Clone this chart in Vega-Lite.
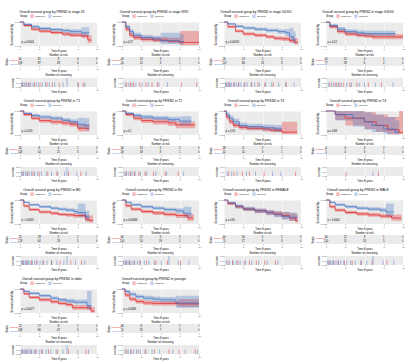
{
"$schema":"https://vega.github.io/schema/vega-lite/v6.json",
"padding":{"left":5,"top":9,"right":1,"bottom":1},
"background":"#ffffff",
"datasets":{
"km":[
{"p":1,"g":"U","t":0,"s":1,"lo":1,"hi":1,"pv":"p = 0.0044"},{"p":1,"g":"U","t":0.5,"s":0.85,"lo":0.8,"hi":0.9},{"p":1,"g":"U","t":1.5,"s":0.7,"lo":0.64,"hi":0.76},{"p":1,"g":"U","t":2.5,"s":0.62,"lo":0.55,"hi":0.69},{"p":1,"g":"U","t":4,"s":0.56,"lo":0.49,"hi":0.63},{"p":1,"g":"U","t":5.5,"s":0.5,"lo":0.42,"hi":0.58},{"p":1,"g":"U","t":6.5,"s":0.45,"lo":0.37,"hi":0.54},{"p":1,"g":"U","t":8,"s":0.42,"lo":0.32,"hi":0.53},{"p":1,"g":"U","t":8.8,"s":0.25,"lo":0.13,"hi":0.45},{"p":1,"g":"U","t":9.3,"s":0.25,"lo":0.13,"hi":0.45},
{"p":1,"g":"O","t":0,"s":1,"lo":1,"hi":1},{"p":1,"g":"O","t":0.5,"s":0.9,"lo":0.86,"hi":0.94},{"p":1,"g":"O","t":1.5,"s":0.8,"lo":0.75,"hi":0.86},{"p":1,"g":"O","t":2.5,"s":0.73,"lo":0.67,"hi":0.79},{"p":1,"g":"O","t":4,"s":0.68,"lo":0.61,"hi":0.75},{"p":1,"g":"O","t":5.5,"s":0.64,"lo":0.56,"hi":0.72},{"p":1,"g":"O","t":6.5,"s":0.6,"lo":0.5,"hi":0.7},{"p":1,"g":"O","t":8,"s":0.55,"lo":0.4,"hi":0.78},{"p":1,"g":"O","t":9,"s":0.55,"lo":0.4,"hi":0.78},
{"p":2,"g":"U","t":0,"s":1,"lo":1,"hi":1,"pv":"p = 0.27"},{"p":2,"g":"U","t":0.5,"s":0.7,"lo":0.6,"hi":0.8},{"p":2,"g":"U","t":1,"s":0.45,"lo":0.35,"hi":0.56},{"p":2,"g":"U","t":1.5,"s":0.35,"lo":0.25,"hi":0.46},{"p":2,"g":"U","t":2.5,"s":0.28,"lo":0.19,"hi":0.4},{"p":2,"g":"U","t":4,"s":0.25,"lo":0.16,"hi":0.37},{"p":2,"g":"U","t":6,"s":0.2,"lo":0.11,"hi":0.34},{"p":2,"g":"U","t":7.5,"s":0.15,"lo":0.03,"hi":0.62},{"p":2,"g":"U","t":10,"s":0.15,"lo":0.03,"hi":0.62},
{"p":2,"g":"O","t":0,"s":1,"lo":1,"hi":1},{"p":2,"g":"O","t":0.5,"s":0.8,"lo":0.72,"hi":0.88},{"p":2,"g":"O","t":1,"s":0.6,"lo":0.5,"hi":0.7},{"p":2,"g":"O","t":1.5,"s":0.45,"lo":0.35,"hi":0.56},{"p":2,"g":"O","t":2.5,"s":0.35,"lo":0.25,"hi":0.47},{"p":2,"g":"O","t":4,"s":0.3,"lo":0.2,"hi":0.43},{"p":2,"g":"O","t":5,"s":0.22,"lo":0.08,"hi":0.55},{"p":2,"g":"O","t":7.5,"s":0.18,"lo":0.05,"hi":0.5},{"p":2,"g":"O","t":8,"s":0.18,"lo":0.05,"hi":0.5},
{"p":3,"g":"U","t":0,"s":1,"lo":1,"hi":1,"pv":"p = 0.00015"},{"p":3,"g":"U","t":0.5,"s":0.8,"lo":0.75,"hi":0.85},{"p":3,"g":"U","t":1.5,"s":0.62,"lo":0.56,"hi":0.68},{"p":3,"g":"U","t":2.5,"s":0.5,"lo":0.44,"hi":0.57},{"p":3,"g":"U","t":4,"s":0.45,"lo":0.38,"hi":0.52},{"p":3,"g":"U","t":5.5,"s":0.38,"lo":0.31,"hi":0.46},{"p":3,"g":"U","t":6.5,"s":0.32,"lo":0.24,"hi":0.41},{"p":3,"g":"U","t":7.5,"s":0.3,"lo":0.21,"hi":0.4},{"p":3,"g":"U","t":8.5,"s":0.22,"lo":0.12,"hi":0.35},{"p":3,"g":"U","t":9.2,"s":0.15,"lo":0.06,"hi":0.32},{"p":3,"g":"U","t":9.6,"s":0.15,"lo":0.06,"hi":0.32},
{"p":3,"g":"O","t":0,"s":1,"lo":1,"hi":1},{"p":3,"g":"O","t":0.5,"s":0.92,"lo":0.89,"hi":0.95},{"p":3,"g":"O","t":1.5,"s":0.82,"lo":0.77,"hi":0.87},{"p":3,"g":"O","t":2.5,"s":0.75,"lo":0.69,"hi":0.81},{"p":3,"g":"O","t":4,"s":0.7,"lo":0.63,"hi":0.77},{"p":3,"g":"O","t":5.5,"s":0.65,"lo":0.57,"hi":0.73},{"p":3,"g":"O","t":7,"s":0.6,"lo":0.5,"hi":0.7},{"p":3,"g":"O","t":8,"s":0.55,"lo":0.42,"hi":0.7},{"p":3,"g":"O","t":8.5,"s":0.4,"lo":0.22,"hi":0.76},{"p":3,"g":"O","t":9,"s":0.25,"lo":0.08,"hi":0.6},{"p":3,"g":"O","t":9.3,"s":0.25,"lo":0.08,"hi":0.6},
{"p":4,"g":"U","t":0,"s":1,"lo":1,"hi":1,"pv":"p = 0.12"},{"p":4,"g":"U","t":0.5,"s":0.8,"lo":0.73,"hi":0.87},{"p":4,"g":"U","t":1.5,"s":0.6,"lo":0.52,"hi":0.68},{"p":4,"g":"U","t":2.5,"s":0.5,"lo":0.42,"hi":0.59},{"p":4,"g":"U","t":4,"s":0.45,"lo":0.36,"hi":0.54},{"p":4,"g":"U","t":5,"s":0.42,"lo":0.33,"hi":0.52},{"p":4,"g":"U","t":6,"s":0.38,"lo":0.28,"hi":0.5},{"p":4,"g":"U","t":10,"s":0.38,"lo":0.28,"hi":0.5},
{"p":4,"g":"O","t":0,"s":1,"lo":1,"hi":1},{"p":4,"g":"O","t":0.5,"s":0.85,"lo":0.78,"hi":0.92},{"p":4,"g":"O","t":1.5,"s":0.7,"lo":0.61,"hi":0.79},{"p":4,"g":"O","t":2.5,"s":0.6,"lo":0.5,"hi":0.7},{"p":4,"g":"O","t":4,"s":0.55,"lo":0.44,"hi":0.66},{"p":4,"g":"O","t":5,"s":0.52,"lo":0.41,"hi":0.64},{"p":4,"g":"O","t":9,"s":0.52,"lo":0.41,"hi":0.64},
{"p":5,"g":"U","t":0,"s":1,"lo":1,"hi":1,"pv":"p = 0.024"},{"p":5,"g":"U","t":0.5,"s":0.85,"lo":0.79,"hi":0.91},{"p":5,"g":"U","t":1.5,"s":0.7,"lo":0.62,"hi":0.78},{"p":5,"g":"U","t":2.5,"s":0.6,"lo":0.51,"hi":0.69},{"p":5,"g":"U","t":4,"s":0.55,"lo":0.45,"hi":0.65},{"p":5,"g":"U","t":5.5,"s":0.5,"lo":0.4,"hi":0.61},{"p":5,"g":"U","t":6.5,"s":0.45,"lo":0.34,"hi":0.57},{"p":5,"g":"U","t":7.5,"s":0.28,"lo":0.15,"hi":0.45},{"p":5,"g":"U","t":9,"s":0.28,"lo":0.15,"hi":0.45},
{"p":5,"g":"O","t":0,"s":1,"lo":1,"hi":1},{"p":5,"g":"O","t":0.5,"s":0.9,"lo":0.86,"hi":0.94},{"p":5,"g":"O","t":1.5,"s":0.82,"lo":0.76,"hi":0.88},{"p":5,"g":"O","t":2.5,"s":0.75,"lo":0.68,"hi":0.82},{"p":5,"g":"O","t":4,"s":0.7,"lo":0.62,"hi":0.78},{"p":5,"g":"O","t":5.5,"s":0.62,"lo":0.53,"hi":0.71},{"p":5,"g":"O","t":6.5,"s":0.55,"lo":0.44,"hi":0.66},{"p":5,"g":"O","t":7.5,"s":0.45,"lo":0.28,"hi":0.72},{"p":5,"g":"O","t":8.5,"s":0.38,"lo":0.2,"hi":0.7},{"p":5,"g":"O","t":9,"s":0.38,"lo":0.2,"hi":0.7},
{"p":6,"g":"U","t":0,"s":1,"lo":1,"hi":1,"pv":"p = 0.1"},{"p":6,"g":"U","t":0.5,"s":0.85,"lo":0.78,"hi":0.92},{"p":6,"g":"U","t":1.5,"s":0.7,"lo":0.61,"hi":0.79},{"p":6,"g":"U","t":2.5,"s":0.6,"lo":0.5,"hi":0.7},{"p":6,"g":"U","t":4,"s":0.55,"lo":0.44,"hi":0.66},{"p":6,"g":"U","t":6,"s":0.5,"lo":0.38,"hi":0.62},{"p":6,"g":"U","t":7,"s":0.42,"lo":0.28,"hi":0.56},{"p":6,"g":"U","t":9.5,"s":0.42,"lo":0.28,"hi":0.56},
{"p":6,"g":"O","t":0,"s":1,"lo":1,"hi":1},{"p":6,"g":"O","t":0.5,"s":0.9,"lo":0.85,"hi":0.95},{"p":6,"g":"O","t":1.5,"s":0.82,"lo":0.75,"hi":0.89},{"p":6,"g":"O","t":2.5,"s":0.75,"lo":0.67,"hi":0.83},{"p":6,"g":"O","t":4,"s":0.7,"lo":0.61,"hi":0.79},{"p":6,"g":"O","t":6,"s":0.65,"lo":0.54,"hi":0.76},{"p":6,"g":"O","t":7.5,"s":0.58,"lo":0.4,"hi":0.78},{"p":6,"g":"O","t":9,"s":0.58,"lo":0.4,"hi":0.78},
{"p":7,"g":"U","t":0,"s":1,"lo":1,"hi":1,"pv":"p = 0.16"},{"p":7,"g":"U","t":0.3,"s":0.75,"lo":0.65,"hi":0.85},{"p":7,"g":"U","t":0.7,"s":0.55,"lo":0.45,"hi":0.65},{"p":7,"g":"U","t":1.2,"s":0.4,"lo":0.3,"hi":0.5},{"p":7,"g":"U","t":2,"s":0.32,"lo":0.22,"hi":0.42},{"p":7,"g":"U","t":3,"s":0.28,"lo":0.19,"hi":0.38},{"p":7,"g":"U","t":5,"s":0.25,"lo":0.15,"hi":0.35},{"p":7,"g":"U","t":6,"s":0.2,"lo":0.11,"hi":0.32},{"p":7,"g":"U","t":7.5,"s":0.12,"lo":0.03,"hi":0.55},{"p":7,"g":"U","t":9.5,"s":0.12,"lo":0.03,"hi":0.55},
{"p":7,"g":"O","t":0,"s":1,"lo":1,"hi":1},{"p":7,"g":"O","t":0.3,"s":0.85,"lo":0.75,"hi":0.95},{"p":7,"g":"O","t":0.7,"s":0.7,"lo":0.58,"hi":0.82},{"p":7,"g":"O","t":1.2,"s":0.55,"lo":0.42,"hi":0.68},{"p":7,"g":"O","t":2,"s":0.4,"lo":0.28,"hi":0.52},{"p":7,"g":"O","t":3,"s":0.35,"lo":0.23,"hi":0.47},{"p":7,"g":"O","t":5,"s":0.3,"lo":0.18,"hi":0.44},{"p":7,"g":"O","t":6.5,"s":0.25,"lo":0.12,"hi":0.42},{"p":7,"g":"O","t":7.5,"s":0.25,"lo":0.12,"hi":0.42},
{"p":8,"g":"U","t":0,"s":1,"lo":1,"hi":1,"pv":"p = 0.88"},{"p":8,"g":"U","t":1.2,"s":0.85,"lo":0.62,"hi":1},{"p":8,"g":"U","t":2.5,"s":0.7,"lo":0.4,"hi":1},{"p":8,"g":"U","t":5,"s":0.55,"lo":0.25,"hi":0.95},{"p":8,"g":"U","t":6.5,"s":0.4,"lo":0.12,"hi":0.85},{"p":8,"g":"U","t":8,"s":0.22,"lo":0.03,"hi":0.75},{"p":8,"g":"U","t":9.5,"s":0.1,"lo":0.05,"hi":1},{"p":8,"g":"U","t":10,"s":0.1,"lo":0.05,"hi":1},
{"p":8,"g":"O","t":0,"s":1,"lo":1,"hi":1},{"p":8,"g":"O","t":1.2,"s":0.85,"lo":0.6,"hi":1},{"p":8,"g":"O","t":3.5,"s":0.7,"lo":0.35,"hi":1},{"p":8,"g":"O","t":5,"s":0.55,"lo":0.22,"hi":0.95},{"p":8,"g":"O","t":6,"s":0.4,"lo":0.12,"hi":0.85},{"p":8,"g":"O","t":7.5,"s":0.25,"lo":0.05,"hi":0.75},{"p":8,"g":"O","t":9,"s":0.12,"lo":0.02,"hi":0.6},{"p":8,"g":"O","t":9.5,"s":0.12,"lo":0.02,"hi":0.6},
{"p":9,"g":"U","t":0,"s":1,"lo":1,"hi":1,"pv":"p < 0.0001"},{"p":9,"g":"U","t":0.5,"s":0.75,"lo":0.7,"hi":0.8},{"p":9,"g":"U","t":1.2,"s":0.6,"lo":0.54,"hi":0.66},{"p":9,"g":"U","t":2.5,"s":0.5,"lo":0.44,"hi":0.56},{"p":9,"g":"U","t":4,"s":0.45,"lo":0.38,"hi":0.52},{"p":9,"g":"U","t":5,"s":0.4,"lo":0.33,"hi":0.47},{"p":9,"g":"U","t":6,"s":0.38,"lo":0.3,"hi":0.46},{"p":9,"g":"U","t":7,"s":0.35,"lo":0.26,"hi":0.44},{"p":9,"g":"U","t":8.5,"s":0.2,"lo":0.09,"hi":0.38},{"p":9,"g":"U","t":9,"s":0.15,"lo":0.05,"hi":0.35},{"p":9,"g":"U","t":9.5,"s":0.15,"lo":0.05,"hi":0.35},
{"p":9,"g":"O","t":0,"s":1,"lo":1,"hi":1},{"p":9,"g":"O","t":0.5,"s":0.9,"lo":0.87,"hi":0.93},{"p":9,"g":"O","t":1.2,"s":0.8,"lo":0.76,"hi":0.84},{"p":9,"g":"O","t":2.5,"s":0.72,"lo":0.67,"hi":0.77},{"p":9,"g":"O","t":4,"s":0.66,"lo":0.6,"hi":0.72},{"p":9,"g":"O","t":5,"s":0.62,"lo":0.55,"hi":0.69},{"p":9,"g":"O","t":6,"s":0.58,"lo":0.5,"hi":0.66},{"p":9,"g":"O","t":7,"s":0.52,"lo":0.42,"hi":0.64},{"p":9,"g":"O","t":7.5,"s":0.48,"lo":0.3,"hi":0.85},{"p":9,"g":"O","t":8.5,"s":0.3,"lo":0.12,"hi":0.55},{"p":9,"g":"O","t":9,"s":0.3,"lo":0.12,"hi":0.55},
{"p":10,"g":"U","t":0,"s":1,"lo":1,"hi":1,"pv":"p = 0.00066"},{"p":10,"g":"U","t":0.5,"s":0.76,"lo":0.7,"hi":0.82},{"p":10,"g":"U","t":1.2,"s":0.62,"lo":0.55,"hi":0.69},{"p":10,"g":"U","t":2.5,"s":0.52,"lo":0.45,"hi":0.59},{"p":10,"g":"U","t":4,"s":0.46,"lo":0.38,"hi":0.54},{"p":10,"g":"U","t":5.5,"s":0.4,"lo":0.32,"hi":0.49},{"p":10,"g":"U","t":7,"s":0.35,"lo":0.25,"hi":0.45},{"p":10,"g":"U","t":8.5,"s":0.25,"lo":0.12,"hi":0.42},{"p":10,"g":"U","t":9.3,"s":0.25,"lo":0.12,"hi":0.42},
{"p":10,"g":"O","t":0,"s":1,"lo":1,"hi":1},{"p":10,"g":"O","t":0.5,"s":0.9,"lo":0.86,"hi":0.94},{"p":10,"g":"O","t":1.2,"s":0.8,"lo":0.75,"hi":0.85},{"p":10,"g":"O","t":2.5,"s":0.72,"lo":0.66,"hi":0.78},{"p":10,"g":"O","t":4,"s":0.66,"lo":0.59,"hi":0.73},{"p":10,"g":"O","t":5.5,"s":0.6,"lo":0.52,"hi":0.68},{"p":10,"g":"O","t":7,"s":0.55,"lo":0.45,"hi":0.66},{"p":10,"g":"O","t":8,"s":0.45,"lo":0.28,"hi":0.72},{"p":10,"g":"O","t":9,"s":0.45,"lo":0.28,"hi":0.72},
{"p":11,"g":"U","t":0,"s":1,"lo":1,"hi":1,"pv":"p = 0.65"},{"p":11,"g":"U","t":0.5,"s":0.85,"lo":0.79,"hi":0.91},{"p":11,"g":"U","t":1.5,"s":0.72,"lo":0.65,"hi":0.79},{"p":11,"g":"U","t":2.5,"s":0.62,"lo":0.54,"hi":0.7},{"p":11,"g":"U","t":4,"s":0.55,"lo":0.46,"hi":0.64},{"p":11,"g":"U","t":5.5,"s":0.48,"lo":0.38,"hi":0.58},{"p":11,"g":"U","t":6.5,"s":0.42,"lo":0.31,"hi":0.53},{"p":11,"g":"U","t":7.5,"s":0.35,"lo":0.22,"hi":0.5},{"p":11,"g":"U","t":8.5,"s":0.25,"lo":0.12,"hi":0.45},{"p":11,"g":"U","t":9.3,"s":0.15,"lo":0.05,"hi":0.4},{"p":11,"g":"U","t":9.6,"s":0.15,"lo":0.05,"hi":0.4},
{"p":11,"g":"O","t":0,"s":1,"lo":1,"hi":1},{"p":11,"g":"O","t":0.5,"s":0.88,"lo":0.82,"hi":0.94},{"p":11,"g":"O","t":1.5,"s":0.74,"lo":0.66,"hi":0.82},{"p":11,"g":"O","t":2.5,"s":0.63,"lo":0.54,"hi":0.72},{"p":11,"g":"O","t":4,"s":0.55,"lo":0.45,"hi":0.65},{"p":11,"g":"O","t":5.5,"s":0.47,"lo":0.36,"hi":0.58},{"p":11,"g":"O","t":6.5,"s":0.4,"lo":0.28,"hi":0.53},{"p":11,"g":"O","t":7.5,"s":0.32,"lo":0.18,"hi":0.5},{"p":11,"g":"O","t":8.5,"s":0.28,"lo":0.12,"hi":0.48},{"p":11,"g":"O","t":9.5,"s":0.28,"lo":0.12,"hi":0.48},
{"p":12,"g":"U","t":0,"s":1,"lo":1,"hi":1,"pv":"p < 0.0001"},{"p":12,"g":"U","t":0.5,"s":0.72,"lo":0.66,"hi":0.78},{"p":12,"g":"U","t":1.2,"s":0.58,"lo":0.51,"hi":0.65},{"p":12,"g":"U","t":2.5,"s":0.48,"lo":0.41,"hi":0.55},{"p":12,"g":"U","t":4,"s":0.42,"lo":0.34,"hi":0.5},{"p":12,"g":"U","t":5.5,"s":0.38,"lo":0.3,"hi":0.47},{"p":12,"g":"U","t":7,"s":0.33,"lo":0.24,"hi":0.43},{"p":12,"g":"U","t":8.5,"s":0.25,"lo":0.14,"hi":0.4},{"p":12,"g":"U","t":9.8,"s":0.25,"lo":0.14,"hi":0.4},
{"p":12,"g":"O","t":0,"s":1,"lo":1,"hi":1},{"p":12,"g":"O","t":0.5,"s":0.9,"lo":0.86,"hi":0.94},{"p":12,"g":"O","t":1.2,"s":0.8,"lo":0.75,"hi":0.85},{"p":12,"g":"O","t":2.5,"s":0.72,"lo":0.66,"hi":0.78},{"p":12,"g":"O","t":4,"s":0.66,"lo":0.59,"hi":0.73},{"p":12,"g":"O","t":5.5,"s":0.62,"lo":0.54,"hi":0.7},{"p":12,"g":"O","t":7,"s":0.58,"lo":0.48,"hi":0.68},{"p":12,"g":"O","t":7.8,"s":0.5,"lo":0.3,"hi":0.85},{"p":12,"g":"O","t":8.8,"s":0.5,"lo":0.3,"hi":0.85},
{"p":13,"g":"U","t":0,"s":1,"lo":1,"hi":1,"pv":"p = 0.0027"},{"p":13,"g":"U","t":0.5,"s":0.8,"lo":0.75,"hi":0.85},{"p":13,"g":"U","t":1.2,"s":0.65,"lo":0.59,"hi":0.71},{"p":13,"g":"U","t":2.5,"s":0.55,"lo":0.48,"hi":0.62},{"p":13,"g":"U","t":4,"s":0.47,"lo":0.4,"hi":0.54},{"p":13,"g":"U","t":5,"s":0.4,"lo":0.32,"hi":0.48},{"p":13,"g":"U","t":6,"s":0.35,"lo":0.27,"hi":0.44},{"p":13,"g":"U","t":6.8,"s":0.22,"lo":0.14,"hi":0.33},{"p":13,"g":"U","t":9.2,"s":0.08,"lo":0.01,"hi":0.25},{"p":13,"g":"U","t":9.7,"s":0.08,"lo":0.01,"hi":0.25},
{"p":13,"g":"O","t":0,"s":1,"lo":1,"hi":1},{"p":13,"g":"O","t":0.5,"s":0.9,"lo":0.86,"hi":0.94},{"p":13,"g":"O","t":1.2,"s":0.82,"lo":0.77,"hi":0.87},{"p":13,"g":"O","t":2.5,"s":0.72,"lo":0.66,"hi":0.78},{"p":13,"g":"O","t":4,"s":0.62,"lo":0.55,"hi":0.69},{"p":13,"g":"O","t":5,"s":0.55,"lo":0.47,"hi":0.63},{"p":13,"g":"O","t":6,"s":0.5,"lo":0.41,"hi":0.59},{"p":13,"g":"O","t":7,"s":0.45,"lo":0.35,"hi":0.56},{"p":13,"g":"O","t":8.7,"s":0.3,"lo":0.12,"hi":0.92},{"p":13,"g":"O","t":9.3,"s":0.3,"lo":0.12,"hi":0.92},
{"p":14,"g":"U","t":0,"s":1,"lo":1,"hi":1,"pv":"p = 0.0086"},{"p":14,"g":"U","t":0.4,"s":0.75,"lo":0.67,"hi":0.83},{"p":14,"g":"U","t":1,"s":0.58,"lo":0.49,"hi":0.67},{"p":14,"g":"U","t":1.8,"s":0.48,"lo":0.39,"hi":0.57},{"p":14,"g":"U","t":2.8,"s":0.42,"lo":0.33,"hi":0.52},{"p":14,"g":"U","t":4,"s":0.4,"lo":0.3,"hi":0.5},{"p":14,"g":"U","t":7.3,"s":0.38,"lo":0.25,"hi":0.58},{"p":14,"g":"U","t":10,"s":0.38,"lo":0.25,"hi":0.58},
{"p":14,"g":"O","t":0,"s":1,"lo":1,"hi":1},{"p":14,"g":"O","t":0.4,"s":0.9,"lo":0.84,"hi":0.96},{"p":14,"g":"O","t":1,"s":0.78,"lo":0.7,"hi":0.86},{"p":14,"g":"O","t":1.8,"s":0.68,"lo":0.59,"hi":0.77},{"p":14,"g":"O","t":2.8,"s":0.62,"lo":0.52,"hi":0.72},{"p":14,"g":"O","t":4,"s":0.58,"lo":0.47,"hi":0.69},{"p":14,"g":"O","t":5,"s":0.55,"lo":0.43,"hi":0.67},{"p":14,"g":"O","t":7,"s":0.42,"lo":0.22,"hi":0.72},{"p":14,"g":"O","t":10,"s":0.42,"lo":0.22,"hi":0.72}
],
"risk":[
{"p":1,"g":"U","t":0,"n":90},{"p":1,"g":"U","t":2.5,"n":31},{"p":1,"g":"U","t":5,"n":8},{"p":1,"g":"U","t":7.5,"n":4},{"p":1,"g":"U","t":10,"n":0},{"p":1,"g":"O","t":0,"n":198},{"p":1,"g":"O","t":2.5,"n":87},{"p":1,"g":"O","t":5,"n":28},{"p":1,"g":"O","t":7.5,"n":4},{"p":1,"g":"O","t":10,"n":0},
{"p":2,"g":"U","t":0,"n":43},{"p":2,"g":"U","t":2.5,"n":10},{"p":2,"g":"U","t":5,"n":3},{"p":2,"g":"U","t":7.5,"n":1},{"p":2,"g":"U","t":10,"n":1},{"p":2,"g":"O","t":0,"n":44},{"p":2,"g":"O","t":2.5,"n":11},{"p":2,"g":"O","t":5,"n":3},{"p":2,"g":"O","t":7.5,"n":1},{"p":2,"g":"O","t":10,"n":0},
{"p":3,"g":"U","t":0,"n":59},{"p":3,"g":"U","t":2.5,"n":13},{"p":3,"g":"U","t":5,"n":5},{"p":3,"g":"U","t":7.5,"n":2},{"p":3,"g":"U","t":10,"n":0},{"p":3,"g":"O","t":0,"n":113},{"p":3,"g":"O","t":2.5,"n":36},{"p":3,"g":"O","t":5,"n":13},{"p":3,"g":"O","t":7.5,"n":3},{"p":3,"g":"O","t":10,"n":0},
{"p":4,"g":"U","t":0,"n":54},{"p":4,"g":"U","t":2.5,"n":15},{"p":4,"g":"U","t":5,"n":4},{"p":4,"g":"U","t":7.5,"n":1},{"p":4,"g":"U","t":10,"n":0},{"p":4,"g":"O","t":0,"n":77},{"p":4,"g":"O","t":2.5,"n":28},{"p":4,"g":"O","t":5,"n":6},{"p":4,"g":"O","t":7.5,"n":2},{"p":4,"g":"O","t":10,"n":0},
{"p":5,"g":"U","t":0,"n":35},{"p":5,"g":"U","t":2.5,"n":8},{"p":5,"g":"U","t":5,"n":4},{"p":5,"g":"U","t":7.5,"n":1},{"p":5,"g":"U","t":10,"n":0},{"p":5,"g":"O","t":0,"n":148},{"p":5,"g":"O","t":2.5,"n":54},{"p":5,"g":"O","t":5,"n":21},{"p":5,"g":"O","t":7.5,"n":3},{"p":5,"g":"O","t":10,"n":0},
{"p":6,"g":"U","t":0,"n":56},{"p":6,"g":"U","t":2.5,"n":14},{"p":6,"g":"U","t":5,"n":6},{"p":6,"g":"U","t":7.5,"n":2},{"p":6,"g":"U","t":10,"n":0},{"p":6,"g":"O","t":0,"n":58},{"p":6,"g":"O","t":2.5,"n":18},{"p":6,"g":"O","t":5,"n":8},{"p":6,"g":"O","t":7.5,"n":1},{"p":6,"g":"O","t":10,"n":0},
{"p":7,"g":"U","t":0,"n":38},{"p":7,"g":"U","t":2.5,"n":6},{"p":7,"g":"U","t":5,"n":2},{"p":7,"g":"U","t":7.5,"n":1},{"p":7,"g":"U","t":10,"n":0},{"p":7,"g":"O","t":0,"n":42},{"p":7,"g":"O","t":2.5,"n":11},{"p":7,"g":"O","t":5,"n":3},{"p":7,"g":"O","t":7.5,"n":1},{"p":7,"g":"O","t":10,"n":0},
{"p":8,"g":"U","t":0,"n":6},{"p":8,"g":"U","t":2.5,"n":4},{"p":8,"g":"U","t":5,"n":4},{"p":8,"g":"U","t":7.5,"n":2},{"p":8,"g":"U","t":10,"n":1},{"p":8,"g":"O","t":0,"n":5},{"p":8,"g":"O","t":2.5,"n":4},{"p":8,"g":"O","t":5,"n":3},{"p":8,"g":"O","t":7.5,"n":1},{"p":8,"g":"O","t":10,"n":0},
{"p":9,"g":"U","t":0,"n":75},{"p":9,"g":"U","t":2.5,"n":18},{"p":9,"g":"U","t":5,"n":5},{"p":9,"g":"U","t":7.5,"n":1},{"p":9,"g":"U","t":10,"n":1},{"p":9,"g":"O","t":0,"n":178},{"p":9,"g":"O","t":2.5,"n":64},{"p":9,"g":"O","t":5,"n":18},{"p":9,"g":"O","t":7.5,"n":5},{"p":9,"g":"O","t":10,"n":0},
{"p":10,"g":"U","t":0,"n":60},{"p":10,"g":"U","t":2.5,"n":21},{"p":10,"g":"U","t":5,"n":6},{"p":10,"g":"U","t":7.5,"n":3},{"p":10,"g":"U","t":10,"n":1},{"p":10,"g":"O","t":0,"n":150},{"p":10,"g":"O","t":2.5,"n":54},{"p":10,"g":"O","t":5,"n":19},{"p":10,"g":"O","t":7.5,"n":5},{"p":10,"g":"O","t":10,"n":0},
{"p":11,"g":"U","t":0,"n":40},{"p":11,"g":"U","t":2.5,"n":16},{"p":11,"g":"U","t":5,"n":5},{"p":11,"g":"U","t":7.5,"n":2},{"p":11,"g":"U","t":10,"n":0},{"p":11,"g":"O","t":0,"n":75},{"p":11,"g":"O","t":2.5,"n":27},{"p":11,"g":"O","t":5,"n":9},{"p":11,"g":"O","t":7.5,"n":3},{"p":11,"g":"O","t":10,"n":0},
{"p":12,"g":"U","t":0,"n":56},{"p":12,"g":"U","t":2.5,"n":11},{"p":12,"g":"U","t":5,"n":3},{"p":12,"g":"U","t":7.5,"n":1},{"p":12,"g":"U","t":10,"n":0},{"p":12,"g":"O","t":0,"n":150},{"p":12,"g":"O","t":2.5,"n":51},{"p":12,"g":"O","t":5,"n":18},{"p":12,"g":"O","t":7.5,"n":5},{"p":12,"g":"O","t":10,"n":0},
{"p":13,"g":"U","t":0,"n":72},{"p":13,"g":"U","t":2.5,"n":17},{"p":13,"g":"U","t":5,"n":8},{"p":13,"g":"U","t":7.5,"n":1},{"p":13,"g":"U","t":10,"n":0},{"p":13,"g":"O","t":0,"n":188},{"p":13,"g":"O","t":2.5,"n":66},{"p":13,"g":"O","t":5,"n":22},{"p":13,"g":"O","t":7.5,"n":5},{"p":13,"g":"O","t":10,"n":0},
{"p":14,"g":"U","t":0,"n":48},{"p":14,"g":"U","t":2.5,"n":8},{"p":14,"g":"U","t":5,"n":2},{"p":14,"g":"U","t":7.5,"n":1},{"p":14,"g":"U","t":10,"n":1},{"p":14,"g":"O","t":0,"n":74},{"p":14,"g":"O","t":2.5,"n":25},{"p":14,"g":"O","t":5,"n":7},{"p":14,"g":"O","t":7.5,"n":2},{"p":14,"g":"O","t":10,"n":0}
],
"cens":[
{"p":1,"g":"U","t":0.3,"n":1},{"p":1,"g":"U","t":0.8,"n":1},{"p":1,"g":"U","t":1.2,"n":1},{"p":1,"g":"U","t":1.9,"n":1},{"p":1,"g":"U","t":2.6,"n":1},{"p":1,"g":"U","t":3.5,"n":1},{"p":1,"g":"U","t":4.2,"n":1},{"p":1,"g":"U","t":5.1,"n":1},{"p":1,"g":"U","t":7.6,"n":1},{"p":1,"g":"U","t":8.2,"n":1},
{"p":1,"g":"O","t":0.2,"n":1},{"p":1,"g":"O","t":0.4,"n":1},{"p":1,"g":"O","t":0.6,"n":1},{"p":1,"g":"O","t":0.9,"n":1},{"p":1,"g":"O","t":1.1,"n":1},{"p":1,"g":"O","t":1.4,"n":1},{"p":1,"g":"O","t":1.7,"n":1},{"p":1,"g":"O","t":2.1,"n":1},{"p":1,"g":"O","t":2.4,"n":1},{"p":1,"g":"O","t":2.9,"n":1},{"p":1,"g":"O","t":3.3,"n":1},{"p":1,"g":"O","t":3.8,"n":1},{"p":1,"g":"O","t":4.5,"n":1},{"p":1,"g":"O","t":5.6,"n":1},{"p":1,"g":"O","t":6.1,"n":2},{"p":1,"g":"O","t":7.5,"n":1},{"p":1,"g":"O","t":8.4,"n":1},
{"p":2,"g":"U","t":0.6,"n":1},{"p":2,"g":"U","t":1.1,"n":1},{"p":2,"g":"U","t":1.5,"n":1},{"p":2,"g":"U","t":2.3,"n":1},{"p":2,"g":"U","t":3.1,"n":1},{"p":2,"g":"U","t":3.9,"n":1},{"p":2,"g":"U","t":4.6,"n":1},{"p":2,"g":"U","t":7.7,"n":1},{"p":2,"g":"U","t":9.7,"n":1},
{"p":2,"g":"O","t":0.4,"n":1},{"p":2,"g":"O","t":0.9,"n":1},{"p":2,"g":"O","t":1.3,"n":1},{"p":2,"g":"O","t":1.8,"n":1},{"p":2,"g":"O","t":2.6,"n":1},{"p":2,"g":"O","t":3.4,"n":1},{"p":2,"g":"O","t":4.8,"n":1},{"p":2,"g":"O","t":5.9,"n":1},
{"p":3,"g":"U","t":0.3,"n":1},{"p":3,"g":"U","t":0.7,"n":1},{"p":3,"g":"U","t":1.3,"n":1},{"p":3,"g":"U","t":1.9,"n":1},{"p":3,"g":"U","t":2.7,"n":1},{"p":3,"g":"U","t":3.6,"n":1},{"p":3,"g":"U","t":4.4,"n":1},{"p":3,"g":"U","t":5.3,"n":1},{"p":3,"g":"U","t":6.4,"n":1},{"p":3,"g":"U","t":8.1,"n":1},
{"p":3,"g":"O","t":0.2,"n":1},{"p":3,"g":"O","t":0.4,"n":1},{"p":3,"g":"O","t":0.6,"n":1},{"p":3,"g":"O","t":0.8,"n":1},{"p":3,"g":"O","t":1,"n":1},{"p":3,"g":"O","t":1.3,"n":1},{"p":3,"g":"O","t":1.6,"n":1},{"p":3,"g":"O","t":1.9,"n":1},{"p":3,"g":"O","t":2.2,"n":1},{"p":3,"g":"O","t":2.6,"n":1},{"p":3,"g":"O","t":3,"n":1},{"p":3,"g":"O","t":3.5,"n":1},{"p":3,"g":"O","t":4,"n":1},{"p":3,"g":"O","t":4.6,"n":1},{"p":3,"g":"O","t":5.4,"n":1},{"p":3,"g":"O","t":6.2,"n":1},{"p":3,"g":"O","t":7.1,"n":1},{"p":3,"g":"O","t":8,"n":1},{"p":3,"g":"O","t":9.1,"n":1},
{"p":4,"g":"U","t":0.5,"n":1},{"p":4,"g":"U","t":1,"n":1},{"p":4,"g":"U","t":1.4,"n":1},{"p":4,"g":"U","t":1.8,"n":1},{"p":4,"g":"U","t":2.3,"n":1},{"p":4,"g":"U","t":3.1,"n":1},{"p":4,"g":"U","t":4,"n":1},{"p":4,"g":"U","t":5.5,"n":1},{"p":4,"g":"U","t":7.2,"n":1},
{"p":4,"g":"O","t":0.3,"n":1},{"p":4,"g":"O","t":0.7,"n":1},{"p":4,"g":"O","t":1.2,"n":1},{"p":4,"g":"O","t":1.6,"n":1},{"p":4,"g":"O","t":2,"n":1},{"p":4,"g":"O","t":2.7,"n":1},{"p":4,"g":"O","t":3.3,"n":1},{"p":4,"g":"O","t":4.3,"n":1},{"p":4,"g":"O","t":5,"n":1},{"p":4,"g":"O","t":6.4,"n":1},{"p":4,"g":"O","t":8.7,"n":1},
{"p":5,"g":"U","t":0.4,"n":1},{"p":5,"g":"U","t":1,"n":1},{"p":5,"g":"U","t":1.7,"n":1},{"p":5,"g":"U","t":2.5,"n":1},{"p":5,"g":"U","t":3.6,"n":1},{"p":5,"g":"U","t":4.8,"n":1},{"p":5,"g":"U","t":6.3,"n":1},{"p":5,"g":"U","t":7.9,"n":1},
{"p":5,"g":"O","t":0.2,"n":1},{"p":5,"g":"O","t":0.4,"n":1},{"p":5,"g":"O","t":0.7,"n":1},{"p":5,"g":"O","t":0.9,"n":1},{"p":5,"g":"O","t":1.2,"n":1},{"p":5,"g":"O","t":1.5,"n":1},{"p":5,"g":"O","t":1.9,"n":1},{"p":5,"g":"O","t":2.3,"n":1},{"p":5,"g":"O","t":2.8,"n":1},{"p":5,"g":"O","t":3.4,"n":1},{"p":5,"g":"O","t":4.1,"n":1},{"p":5,"g":"O","t":4.9,"n":1},{"p":5,"g":"O","t":5.8,"n":1},{"p":5,"g":"O","t":6.1,"n":2},{"p":5,"g":"O","t":7.4,"n":1},{"p":5,"g":"O","t":8.6,"n":1},
{"p":6,"g":"U","t":0.5,"n":1},{"p":6,"g":"U","t":1.1,"n":1},{"p":6,"g":"U","t":1.6,"n":1},{"p":6,"g":"U","t":2.2,"n":1},{"p":6,"g":"U","t":3,"n":1},{"p":6,"g":"U","t":4.1,"n":1},{"p":6,"g":"U","t":5.6,"n":1},{"p":6,"g":"U","t":7.3,"n":1},
{"p":6,"g":"O","t":0.3,"n":1},{"p":6,"g":"O","t":0.6,"n":1},{"p":6,"g":"O","t":0.9,"n":1},{"p":6,"g":"O","t":1.3,"n":1},{"p":6,"g":"O","t":1.7,"n":1},{"p":6,"g":"O","t":2.4,"n":1},{"p":6,"g":"O","t":3.2,"n":1},{"p":6,"g":"O","t":4.4,"n":1},{"p":6,"g":"O","t":5.8,"n":1},{"p":6,"g":"O","t":8,"n":1},
{"p":7,"g":"U","t":0.6,"n":1},{"p":7,"g":"U","t":1.3,"n":1},{"p":7,"g":"U","t":2.4,"n":1},{"p":7,"g":"U","t":3.3,"n":1},{"p":7,"g":"U","t":5.2,"n":1},{"p":7,"g":"U","t":9.3,"n":1},
{"p":7,"g":"O","t":0.4,"n":1},{"p":7,"g":"O","t":1,"n":1},{"p":7,"g":"O","t":1.7,"n":1},{"p":7,"g":"O","t":2.9,"n":1},{"p":7,"g":"O","t":4.1,"n":1},{"p":7,"g":"O","t":6.3,"n":1},{"p":7,"g":"O","t":7.4,"n":1},
{"p":8,"g":"U","t":2.6,"n":1},{"p":8,"g":"U","t":6.8,"n":1},{"p":8,"g":"O","t":6.1,"n":1},
{"p":9,"g":"U","t":0.4,"n":1},{"p":9,"g":"U","t":0.9,"n":1},{"p":9,"g":"U","t":1.5,"n":1},{"p":9,"g":"U","t":2.2,"n":1},{"p":9,"g":"U","t":3,"n":1},{"p":9,"g":"U","t":4.1,"n":1},{"p":9,"g":"U","t":5.2,"n":1},{"p":9,"g":"U","t":6.6,"n":1},{"p":9,"g":"U","t":8,"n":1},
{"p":9,"g":"O","t":0.2,"n":1},{"p":9,"g":"O","t":0.3,"n":1},{"p":9,"g":"O","t":0.5,"n":1},{"p":9,"g":"O","t":0.7,"n":1},{"p":9,"g":"O","t":0.9,"n":1},{"p":9,"g":"O","t":1.1,"n":1},{"p":9,"g":"O","t":1.3,"n":1},{"p":9,"g":"O","t":1.6,"n":1},{"p":9,"g":"O","t":1.9,"n":1},{"p":9,"g":"O","t":2.2,"n":1},{"p":9,"g":"O","t":2.6,"n":1},{"p":9,"g":"O","t":3,"n":1},{"p":9,"g":"O","t":3.5,"n":1},{"p":9,"g":"O","t":4.1,"n":1},{"p":9,"g":"O","t":4.8,"n":1},{"p":9,"g":"O","t":5.7,"n":1},{"p":9,"g":"O","t":6.1,"n":2},{"p":9,"g":"O","t":7.2,"n":1},{"p":9,"g":"O","t":8.4,"n":1},
{"p":10,"g":"U","t":0.5,"n":1},{"p":10,"g":"U","t":1,"n":1},{"p":10,"g":"U","t":1.6,"n":1},{"p":10,"g":"U","t":2.3,"n":1},{"p":10,"g":"U","t":3.2,"n":1},{"p":10,"g":"U","t":4.4,"n":1},{"p":10,"g":"U","t":5.9,"n":1},{"p":10,"g":"U","t":7.6,"n":1},
{"p":10,"g":"O","t":0.2,"n":1},{"p":10,"g":"O","t":0.4,"n":1},{"p":10,"g":"O","t":0.6,"n":1},{"p":10,"g":"O","t":0.8,"n":1},{"p":10,"g":"O","t":1,"n":1},{"p":10,"g":"O","t":1.3,"n":1},{"p":10,"g":"O","t":1.6,"n":1},{"p":10,"g":"O","t":2,"n":1},{"p":10,"g":"O","t":2.4,"n":1},{"p":10,"g":"O","t":2.9,"n":1},{"p":10,"g":"O","t":3.5,"n":1},{"p":10,"g":"O","t":4.2,"n":1},{"p":10,"g":"O","t":5.1,"n":1},{"p":10,"g":"O","t":6.1,"n":2},{"p":10,"g":"O","t":7.3,"n":1},{"p":10,"g":"O","t":8.7,"n":1},
{"p":11,"g":"U","t":0.5,"n":1},{"p":11,"g":"U","t":1.1,"n":1},{"p":11,"g":"U","t":1.8,"n":1},{"p":11,"g":"U","t":2.6,"n":1},{"p":11,"g":"U","t":3.3,"n":1},{"p":11,"g":"U","t":4.2,"n":1},{"p":11,"g":"U","t":5.3,"n":1},{"p":11,"g":"U","t":6.7,"n":1},
{"p":11,"g":"O","t":0.3,"n":1},{"p":11,"g":"O","t":0.7,"n":1},{"p":11,"g":"O","t":1.2,"n":1},{"p":11,"g":"O","t":1.6,"n":1},{"p":11,"g":"O","t":2.1,"n":1},{"p":11,"g":"O","t":2.8,"n":1},{"p":11,"g":"O","t":3.6,"n":1},{"p":11,"g":"O","t":4.5,"n":1},{"p":11,"g":"O","t":5.6,"n":1},{"p":11,"g":"O","t":7,"n":1},
{"p":12,"g":"U","t":0.4,"n":1},{"p":12,"g":"U","t":1,"n":1},{"p":12,"g":"U","t":1.6,"n":1},{"p":12,"g":"U","t":2.4,"n":1},{"p":12,"g":"U","t":3.4,"n":1},{"p":12,"g":"U","t":4.6,"n":1},{"p":12,"g":"U","t":6,"n":1},{"p":12,"g":"U","t":7.9,"n":1},
{"p":12,"g":"O","t":0.2,"n":1},{"p":12,"g":"O","t":0.4,"n":1},{"p":12,"g":"O","t":0.6,"n":1},{"p":12,"g":"O","t":0.8,"n":1},{"p":12,"g":"O","t":1,"n":1},{"p":12,"g":"O","t":1.3,"n":1},{"p":12,"g":"O","t":1.6,"n":1},{"p":12,"g":"O","t":1.9,"n":1},{"p":12,"g":"O","t":2.3,"n":1},{"p":12,"g":"O","t":2.7,"n":1},{"p":12,"g":"O","t":3.2,"n":1},{"p":12,"g":"O","t":3.8,"n":1},{"p":12,"g":"O","t":4.5,"n":1},{"p":12,"g":"O","t":5.3,"n":1},{"p":12,"g":"O","t":6.1,"n":2},{"p":12,"g":"O","t":7.4,"n":1},{"p":12,"g":"O","t":8.8,"n":1},
{"p":13,"g":"U","t":0.3,"n":1},{"p":13,"g":"U","t":0.8,"n":1},{"p":13,"g":"U","t":1.4,"n":1},{"p":13,"g":"U","t":2,"n":1},{"p":13,"g":"U","t":2.8,"n":1},{"p":13,"g":"U","t":3.7,"n":1},{"p":13,"g":"U","t":4.9,"n":1},{"p":13,"g":"U","t":6.3,"n":1},{"p":13,"g":"U","t":8.6,"n":1},
{"p":13,"g":"O","t":0.2,"n":1},{"p":13,"g":"O","t":0.4,"n":1},{"p":13,"g":"O","t":0.6,"n":1},{"p":13,"g":"O","t":0.8,"n":1},{"p":13,"g":"O","t":1,"n":1},{"p":13,"g":"O","t":1.2,"n":1},{"p":13,"g":"O","t":1.5,"n":1},{"p":13,"g":"O","t":1.8,"n":1},{"p":13,"g":"O","t":2.1,"n":1},{"p":13,"g":"O","t":2.5,"n":1},{"p":13,"g":"O","t":2.9,"n":1},{"p":13,"g":"O","t":3.4,"n":1},{"p":13,"g":"O","t":4,"n":1},{"p":13,"g":"O","t":4.7,"n":1},{"p":13,"g":"O","t":5.6,"n":1},{"p":13,"g":"O","t":6.1,"n":2},{"p":13,"g":"O","t":7.5,"n":1},{"p":13,"g":"O","t":8.9,"n":1},
{"p":14,"g":"U","t":0.6,"n":1},{"p":14,"g":"U","t":1.2,"n":1},{"p":14,"g":"U","t":2.1,"n":1},{"p":14,"g":"U","t":3,"n":1},{"p":14,"g":"U","t":4.2,"n":1},{"p":14,"g":"U","t":6.1,"n":1},{"p":14,"g":"U","t":7.4,"n":1},{"p":14,"g":"U","t":9.5,"n":1},
{"p":14,"g":"O","t":0.4,"n":1},{"p":14,"g":"O","t":0.8,"n":1},{"p":14,"g":"O","t":1.1,"n":1},{"p":14,"g":"O","t":1.5,"n":1},{"p":14,"g":"O","t":1.9,"n":1},{"p":14,"g":"O","t":2.4,"n":1},{"p":14,"g":"O","t":3.1,"n":1},{"p":14,"g":"O","t":3.9,"n":1},{"p":14,"g":"O","t":4.9,"n":1},{"p":14,"g":"O","t":6.6,"n":1},{"p":14,"g":"O","t":8.2,"n":1},{"p":14,"g":"O","t":9.8,"n":1}
]
},
"columns":4,
"spacing":{"row":4,"column":8},
"resolve":{"scale":{"color":"independent"},"legend":{"color":"independent"}},
"concat":[
{"title":"Overall survival group by PRKN2 in stage I/II","spacing":0,"vconcat":[
{"width":77,"height":24,"data":{"name":"km"},"transform":[{"filter":"datum.p==1"}],"encoding":{"x":{"field":"t","type":"quantitative","scale":{"domain":[0,10],"nice":false},"axis":{"values":[0,2.5,5,7.5,10],"title":"Time in years"}},"color":{"field":"g","type":"nominal","scale":{"domain":["U","O"],"range":["#E41A1C","#3C6FC4"]},"legend":{"title":"Group","labelExpr":"datum.label=='U'?'Underexp':'Overexp'"}}},"layer":[
{"mark":{"type":"area","interpolate":"step-after","opacity":0.3},"encoding":{"y":{"field":"lo","type":"quantitative","scale":{"domain":[0,1]},"axis":{"title":"Survival probability","values":[0,0.25,0.5,0.75,1],"format":".2f"}},"y2":{"field":"hi"}}},
{"mark":{"type":"line","interpolate":"step-after","strokeWidth":0.7},"encoding":{"y":{"field":"s","type":"quantitative"}}},
{"transform":[{"filter":"isValid(datum.pv)"}],"mark":{"type":"text","align":"left"},"encoding":{"x":{"datum":0.2},"y":{"datum":0.15},"text":{"field":"pv"},"color":{"value":"#000000"}}}]},
{"width":77,"height":9,"title":{"text":"Number at risk","fontSize":2.8,"offset":0.3},"data":{"name":"risk"},"transform":[{"filter":"datum.p==1"}],"mark":"text","encoding":{"x":{"field":"t","type":"quantitative","scale":{"domain":[0,10],"nice":false},"axis":{"values":[0,2.5,5,7.5,10],"grid":false,"title":"Time in years"}},"y":{"field":"g","type":"nominal","sort":["U","O"],"axis":{"title":"Strata","grid":false,"labelExpr":"datum.label=='U'?'Underexp':'Overexp'","labelColor":{"condition":{"test":"datum.value=='U'","value":"#E41A1C"},"value":"#3C6FC4"}}},"text":{"field":"n"}}},
{"width":77,"height":9,"title":{"text":"Number of censoring","fontSize":2.8,"offset":0.3},"data":{"name":"cens"},"transform":[{"filter":"datum.p==1"}],"mark":{"type":"rule","strokeWidth":0.6,"opacity":0.75},"encoding":{"x":{"field":"t","type":"quantitative","scale":{"domain":[0,10],"nice":false},"axis":{"values":[0,2.5,5,7.5,10],"title":"Time in years"}},"y":{"field":"n","type":"quantitative","scale":{"domain":[0,2]},"axis":{"title":"n.censor","values":[0,1,2],"grid":false}},"y2":{"datum":0},"color":{"field":"g","type":"nominal","legend":{"title":"Group","labelExpr":"datum.label=='U'?'Underexp':'Overexp'"}}}}
]},
{"title":"Overall survival group by PRKN2 in stage III/IV","spacing":0,"vconcat":[
{"width":77,"height":24,"data":{"name":"km"},"transform":[{"filter":"datum.p==2"}],"encoding":{"x":{"field":"t","type":"quantitative","scale":{"domain":[0,10],"nice":false},"axis":{"values":[0,2.5,5,7.5,10],"title":"Time in years"}},"color":{"field":"g","type":"nominal","scale":{"domain":["U","O"],"range":["#E41A1C","#3C6FC4"]},"legend":{"title":"Group","labelExpr":"datum.label=='U'?'Underexp':'Overexp'"}}},"layer":[
{"mark":{"type":"area","interpolate":"step-after","opacity":0.3},"encoding":{"y":{"field":"lo","type":"quantitative","scale":{"domain":[0,1]},"axis":{"title":"Survival probability","values":[0,0.25,0.5,0.75,1],"format":".2f"}},"y2":{"field":"hi"}}},
{"mark":{"type":"line","interpolate":"step-after","strokeWidth":0.7},"encoding":{"y":{"field":"s","type":"quantitative"}}},
{"transform":[{"filter":"isValid(datum.pv)"}],"mark":{"type":"text","align":"left"},"encoding":{"x":{"datum":0.2},"y":{"datum":0.15},"text":{"field":"pv"},"color":{"value":"#000000"}}}]},
{"width":77,"height":9,"title":{"text":"Number at risk","fontSize":2.8,"offset":0.3},"data":{"name":"risk"},"transform":[{"filter":"datum.p==2"}],"mark":"text","encoding":{"x":{"field":"t","type":"quantitative","scale":{"domain":[0,10],"nice":false},"axis":{"values":[0,2.5,5,7.5,10],"grid":false,"title":"Time in years"}},"y":{"field":"g","type":"nominal","sort":["U","O"],"axis":{"title":"Strata","grid":false,"labelExpr":"datum.label=='U'?'Underexp':'Overexp'","labelColor":{"condition":{"test":"datum.value=='U'","value":"#E41A1C"},"value":"#3C6FC4"}}},"text":{"field":"n"}}},
{"width":77,"height":9,"title":{"text":"Number of censoring","fontSize":2.8,"offset":0.3},"data":{"name":"cens"},"transform":[{"filter":"datum.p==2"}],"mark":{"type":"rule","strokeWidth":0.6,"opacity":0.75},"encoding":{"x":{"field":"t","type":"quantitative","scale":{"domain":[0,10],"nice":false},"axis":{"values":[0,2.5,5,7.5,10],"title":"Time in years"}},"y":{"field":"n","type":"quantitative","scale":{"domain":[0,2]},"axis":{"title":"n.censor","values":[0,1,2],"grid":false}},"y2":{"datum":0},"color":{"field":"g","type":"nominal","legend":{"title":"Group","labelExpr":"datum.label=='U'?'Underexp':'Overexp'"}}}}
]},
{"title":"Overall survival group by PRKN2 in stage G1/G2","spacing":0,"vconcat":[
{"width":77,"height":24,"data":{"name":"km"},"transform":[{"filter":"datum.p==3"}],"encoding":{"x":{"field":"t","type":"quantitative","scale":{"domain":[0,10],"nice":false},"axis":{"values":[0,2.5,5,7.5,10],"title":"Time in years"}},"color":{"field":"g","type":"nominal","scale":{"domain":["U","O"],"range":["#E41A1C","#3C6FC4"]},"legend":{"title":"Group","labelExpr":"datum.label=='U'?'Underexp':'Overexp'"}}},"layer":[
{"mark":{"type":"area","interpolate":"step-after","opacity":0.3},"encoding":{"y":{"field":"lo","type":"quantitative","scale":{"domain":[0,1]},"axis":{"title":"Survival probability","values":[0,0.25,0.5,0.75,1],"format":".2f"}},"y2":{"field":"hi"}}},
{"mark":{"type":"line","interpolate":"step-after","strokeWidth":0.7},"encoding":{"y":{"field":"s","type":"quantitative"}}},
{"transform":[{"filter":"isValid(datum.pv)"}],"mark":{"type":"text","align":"left"},"encoding":{"x":{"datum":0.2},"y":{"datum":0.15},"text":{"field":"pv"},"color":{"value":"#000000"}}}]},
{"width":77,"height":9,"title":{"text":"Number at risk","fontSize":2.8,"offset":0.3},"data":{"name":"risk"},"transform":[{"filter":"datum.p==3"}],"mark":"text","encoding":{"x":{"field":"t","type":"quantitative","scale":{"domain":[0,10],"nice":false},"axis":{"values":[0,2.5,5,7.5,10],"grid":false,"title":"Time in years"}},"y":{"field":"g","type":"nominal","sort":["U","O"],"axis":{"title":"Strata","grid":false,"labelExpr":"datum.label=='U'?'Underexp':'Overexp'","labelColor":{"condition":{"test":"datum.value=='U'","value":"#E41A1C"},"value":"#3C6FC4"}}},"text":{"field":"n"}}},
{"width":77,"height":9,"title":{"text":"Number of censoring","fontSize":2.8,"offset":0.3},"data":{"name":"cens"},"transform":[{"filter":"datum.p==3"}],"mark":{"type":"rule","strokeWidth":0.6,"opacity":0.75},"encoding":{"x":{"field":"t","type":"quantitative","scale":{"domain":[0,10],"nice":false},"axis":{"values":[0,2.5,5,7.5,10],"title":"Time in years"}},"y":{"field":"n","type":"quantitative","scale":{"domain":[0,2]},"axis":{"title":"n.censor","values":[0,1,2],"grid":false}},"y2":{"datum":0},"color":{"field":"g","type":"nominal","legend":{"title":"Group","labelExpr":"datum.label=='U'?'Underexp':'Overexp'"}}}}
]},
{"title":"Overall survival group by PRKN2 in stage G3/G4","spacing":0,"vconcat":[
{"width":77,"height":24,"data":{"name":"km"},"transform":[{"filter":"datum.p==4"}],"encoding":{"x":{"field":"t","type":"quantitative","scale":{"domain":[0,10],"nice":false},"axis":{"values":[0,2.5,5,7.5,10],"title":"Time in years"}},"color":{"field":"g","type":"nominal","scale":{"domain":["U","O"],"range":["#E41A1C","#3C6FC4"]},"legend":{"title":"Group","labelExpr":"datum.label=='U'?'Underexp':'Overexp'"}}},"layer":[
{"mark":{"type":"area","interpolate":"step-after","opacity":0.3},"encoding":{"y":{"field":"lo","type":"quantitative","scale":{"domain":[0,1]},"axis":{"title":"Survival probability","values":[0,0.25,0.5,0.75,1],"format":".2f"}},"y2":{"field":"hi"}}},
{"mark":{"type":"line","interpolate":"step-after","strokeWidth":0.7},"encoding":{"y":{"field":"s","type":"quantitative"}}},
{"transform":[{"filter":"isValid(datum.pv)"}],"mark":{"type":"text","align":"left"},"encoding":{"x":{"datum":0.2},"y":{"datum":0.15},"text":{"field":"pv"},"color":{"value":"#000000"}}}]},
{"width":77,"height":9,"title":{"text":"Number at risk","fontSize":2.8,"offset":0.3},"data":{"name":"risk"},"transform":[{"filter":"datum.p==4"}],"mark":"text","encoding":{"x":{"field":"t","type":"quantitative","scale":{"domain":[0,10],"nice":false},"axis":{"values":[0,2.5,5,7.5,10],"grid":false,"title":"Time in years"}},"y":{"field":"g","type":"nominal","sort":["U","O"],"axis":{"title":"Strata","grid":false,"labelExpr":"datum.label=='U'?'Underexp':'Overexp'","labelColor":{"condition":{"test":"datum.value=='U'","value":"#E41A1C"},"value":"#3C6FC4"}}},"text":{"field":"n"}}},
{"width":77,"height":9,"title":{"text":"Number of censoring","fontSize":2.8,"offset":0.3},"data":{"name":"cens"},"transform":[{"filter":"datum.p==4"}],"mark":{"type":"rule","strokeWidth":0.6,"opacity":0.75},"encoding":{"x":{"field":"t","type":"quantitative","scale":{"domain":[0,10],"nice":false},"axis":{"values":[0,2.5,5,7.5,10],"title":"Time in years"}},"y":{"field":"n","type":"quantitative","scale":{"domain":[0,2]},"axis":{"title":"n.censor","values":[0,1,2],"grid":false}},"y2":{"datum":0},"color":{"field":"g","type":"nominal","legend":{"title":"Group","labelExpr":"datum.label=='U'?'Underexp':'Overexp'"}}}}
]},
{"title":"Overall survival group by PRKN2 in T1","spacing":0,"vconcat":[
{"width":77,"height":24,"data":{"name":"km"},"transform":[{"filter":"datum.p==5"}],"encoding":{"x":{"field":"t","type":"quantitative","scale":{"domain":[0,10],"nice":false},"axis":{"values":[0,2.5,5,7.5,10],"title":"Time in years"}},"color":{"field":"g","type":"nominal","scale":{"domain":["U","O"],"range":["#E41A1C","#3C6FC4"]},"legend":{"title":"Group","labelExpr":"datum.label=='U'?'Underexp':'Overexp'"}}},"layer":[
{"mark":{"type":"area","interpolate":"step-after","opacity":0.3},"encoding":{"y":{"field":"lo","type":"quantitative","scale":{"domain":[0,1]},"axis":{"title":"Survival probability","values":[0,0.25,0.5,0.75,1],"format":".2f"}},"y2":{"field":"hi"}}},
{"mark":{"type":"line","interpolate":"step-after","strokeWidth":0.7},"encoding":{"y":{"field":"s","type":"quantitative"}}},
{"transform":[{"filter":"isValid(datum.pv)"}],"mark":{"type":"text","align":"left"},"encoding":{"x":{"datum":0.2},"y":{"datum":0.15},"text":{"field":"pv"},"color":{"value":"#000000"}}}]},
{"width":77,"height":9,"title":{"text":"Number at risk","fontSize":2.8,"offset":0.3},"data":{"name":"risk"},"transform":[{"filter":"datum.p==5"}],"mark":"text","encoding":{"x":{"field":"t","type":"quantitative","scale":{"domain":[0,10],"nice":false},"axis":{"values":[0,2.5,5,7.5,10],"grid":false,"title":"Time in years"}},"y":{"field":"g","type":"nominal","sort":["U","O"],"axis":{"title":"Strata","grid":false,"labelExpr":"datum.label=='U'?'Underexp':'Overexp'","labelColor":{"condition":{"test":"datum.value=='U'","value":"#E41A1C"},"value":"#3C6FC4"}}},"text":{"field":"n"}}},
{"width":77,"height":9,"title":{"text":"Number of censoring","fontSize":2.8,"offset":0.3},"data":{"name":"cens"},"transform":[{"filter":"datum.p==5"}],"mark":{"type":"rule","strokeWidth":0.6,"opacity":0.75},"encoding":{"x":{"field":"t","type":"quantitative","scale":{"domain":[0,10],"nice":false},"axis":{"values":[0,2.5,5,7.5,10],"title":"Time in years"}},"y":{"field":"n","type":"quantitative","scale":{"domain":[0,2]},"axis":{"title":"n.censor","values":[0,1,2],"grid":false}},"y2":{"datum":0},"color":{"field":"g","type":"nominal","legend":{"title":"Group","labelExpr":"datum.label=='U'?'Underexp':'Overexp'"}}}}
]},
{"title":"Overall survival group by PRKN2 in T2","spacing":0,"vconcat":[
{"width":77,"height":24,"data":{"name":"km"},"transform":[{"filter":"datum.p==6"}],"encoding":{"x":{"field":"t","type":"quantitative","scale":{"domain":[0,10],"nice":false},"axis":{"values":[0,2.5,5,7.5,10],"title":"Time in years"}},"color":{"field":"g","type":"nominal","scale":{"domain":["U","O"],"range":["#E41A1C","#3C6FC4"]},"legend":{"title":"Group","labelExpr":"datum.label=='U'?'Underexp':'Overexp'"}}},"layer":[
{"mark":{"type":"area","interpolate":"step-after","opacity":0.3},"encoding":{"y":{"field":"lo","type":"quantitative","scale":{"domain":[0,1]},"axis":{"title":"Survival probability","values":[0,0.25,0.5,0.75,1],"format":".2f"}},"y2":{"field":"hi"}}},
{"mark":{"type":"line","interpolate":"step-after","strokeWidth":0.7},"encoding":{"y":{"field":"s","type":"quantitative"}}},
{"transform":[{"filter":"isValid(datum.pv)"}],"mark":{"type":"text","align":"left"},"encoding":{"x":{"datum":0.2},"y":{"datum":0.15},"text":{"field":"pv"},"color":{"value":"#000000"}}}]},
{"width":77,"height":9,"title":{"text":"Number at risk","fontSize":2.8,"offset":0.3},"data":{"name":"risk"},"transform":[{"filter":"datum.p==6"}],"mark":"text","encoding":{"x":{"field":"t","type":"quantitative","scale":{"domain":[0,10],"nice":false},"axis":{"values":[0,2.5,5,7.5,10],"grid":false,"title":"Time in years"}},"y":{"field":"g","type":"nominal","sort":["U","O"],"axis":{"title":"Strata","grid":false,"labelExpr":"datum.label=='U'?'Underexp':'Overexp'","labelColor":{"condition":{"test":"datum.value=='U'","value":"#E41A1C"},"value":"#3C6FC4"}}},"text":{"field":"n"}}},
{"width":77,"height":9,"title":{"text":"Number of censoring","fontSize":2.8,"offset":0.3},"data":{"name":"cens"},"transform":[{"filter":"datum.p==6"}],"mark":{"type":"rule","strokeWidth":0.6,"opacity":0.75},"encoding":{"x":{"field":"t","type":"quantitative","scale":{"domain":[0,10],"nice":false},"axis":{"values":[0,2.5,5,7.5,10],"title":"Time in years"}},"y":{"field":"n","type":"quantitative","scale":{"domain":[0,2]},"axis":{"title":"n.censor","values":[0,1,2],"grid":false}},"y2":{"datum":0},"color":{"field":"g","type":"nominal","legend":{"title":"Group","labelExpr":"datum.label=='U'?'Underexp':'Overexp'"}}}}
]},
{"title":"Overall survival group by PRKN2 in T3","spacing":0,"vconcat":[
{"width":77,"height":24,"data":{"name":"km"},"transform":[{"filter":"datum.p==7"}],"encoding":{"x":{"field":"t","type":"quantitative","scale":{"domain":[0,10],"nice":false},"axis":{"values":[0,2.5,5,7.5,10],"title":"Time in years"}},"color":{"field":"g","type":"nominal","scale":{"domain":["U","O"],"range":["#E41A1C","#3C6FC4"]},"legend":{"title":"Group","labelExpr":"datum.label=='U'?'Underexp':'Overexp'"}}},"layer":[
{"mark":{"type":"area","interpolate":"step-after","opacity":0.3},"encoding":{"y":{"field":"lo","type":"quantitative","scale":{"domain":[0,1]},"axis":{"title":"Survival probability","values":[0,0.25,0.5,0.75,1],"format":".2f"}},"y2":{"field":"hi"}}},
{"mark":{"type":"line","interpolate":"step-after","strokeWidth":0.7},"encoding":{"y":{"field":"s","type":"quantitative"}}},
{"transform":[{"filter":"isValid(datum.pv)"}],"mark":{"type":"text","align":"left"},"encoding":{"x":{"datum":0.2},"y":{"datum":0.15},"text":{"field":"pv"},"color":{"value":"#000000"}}}]},
{"width":77,"height":9,"title":{"text":"Number at risk","fontSize":2.8,"offset":0.3},"data":{"name":"risk"},"transform":[{"filter":"datum.p==7"}],"mark":"text","encoding":{"x":{"field":"t","type":"quantitative","scale":{"domain":[0,10],"nice":false},"axis":{"values":[0,2.5,5,7.5,10],"grid":false,"title":"Time in years"}},"y":{"field":"g","type":"nominal","sort":["U","O"],"axis":{"title":"Strata","grid":false,"labelExpr":"datum.label=='U'?'Underexp':'Overexp'","labelColor":{"condition":{"test":"datum.value=='U'","value":"#E41A1C"},"value":"#3C6FC4"}}},"text":{"field":"n"}}},
{"width":77,"height":9,"title":{"text":"Number of censoring","fontSize":2.8,"offset":0.3},"data":{"name":"cens"},"transform":[{"filter":"datum.p==7"}],"mark":{"type":"rule","strokeWidth":0.6,"opacity":0.75},"encoding":{"x":{"field":"t","type":"quantitative","scale":{"domain":[0,10],"nice":false},"axis":{"values":[0,2.5,5,7.5,10],"title":"Time in years"}},"y":{"field":"n","type":"quantitative","scale":{"domain":[0,2]},"axis":{"title":"n.censor","values":[0,1,2],"grid":false}},"y2":{"datum":0},"color":{"field":"g","type":"nominal","legend":{"title":"Group","labelExpr":"datum.label=='U'?'Underexp':'Overexp'"}}}}
]},
{"title":"Overall survival group by PRKN2 in T4","spacing":0,"vconcat":[
{"width":77,"height":24,"data":{"name":"km"},"transform":[{"filter":"datum.p==8"}],"encoding":{"x":{"field":"t","type":"quantitative","scale":{"domain":[0,10],"nice":false},"axis":{"values":[0,2.5,5,7.5,10],"title":"Time in years"}},"color":{"field":"g","type":"nominal","scale":{"domain":["U","O"],"range":["#E41A1C","#3C6FC4"]},"legend":{"title":"Group","labelExpr":"datum.label=='U'?'Underexp':'Overexp'"}}},"layer":[
{"mark":{"type":"area","interpolate":"step-after","opacity":0.3},"encoding":{"y":{"field":"lo","type":"quantitative","scale":{"domain":[0,1]},"axis":{"title":"Survival probability","values":[0,0.25,0.5,0.75,1],"format":".2f"}},"y2":{"field":"hi"}}},
{"mark":{"type":"line","interpolate":"step-after","strokeWidth":0.7},"encoding":{"y":{"field":"s","type":"quantitative"}}},
{"transform":[{"filter":"isValid(datum.pv)"}],"mark":{"type":"text","align":"left"},"encoding":{"x":{"datum":0.2},"y":{"datum":0.15},"text":{"field":"pv"},"color":{"value":"#000000"}}}]},
{"width":77,"height":9,"title":{"text":"Number at risk","fontSize":2.8,"offset":0.3},"data":{"name":"risk"},"transform":[{"filter":"datum.p==8"}],"mark":"text","encoding":{"x":{"field":"t","type":"quantitative","scale":{"domain":[0,10],"nice":false},"axis":{"values":[0,2.5,5,7.5,10],"grid":false,"title":"Time in years"}},"y":{"field":"g","type":"nominal","sort":["U","O"],"axis":{"title":"Strata","grid":false,"labelExpr":"datum.label=='U'?'Underexp':'Overexp'","labelColor":{"condition":{"test":"datum.value=='U'","value":"#E41A1C"},"value":"#3C6FC4"}}},"text":{"field":"n"}}},
{"width":77,"height":9,"title":{"text":"Number of censoring","fontSize":2.8,"offset":0.3},"data":{"name":"cens"},"transform":[{"filter":"datum.p==8"}],"mark":{"type":"rule","strokeWidth":0.6,"opacity":0.75},"encoding":{"x":{"field":"t","type":"quantitative","scale":{"domain":[0,10],"nice":false},"axis":{"values":[0,2.5,5,7.5,10],"title":"Time in years"}},"y":{"field":"n","type":"quantitative","scale":{"domain":[0,2]},"axis":{"title":"n.censor","values":[0,1,2],"grid":false}},"y2":{"datum":0},"color":{"field":"g","type":"nominal","legend":{"title":"Group","labelExpr":"datum.label=='U'?'Underexp':'Overexp'"}}}}
]},
{"title":"Overall survival group by PRKN2 in M0","spacing":0,"vconcat":[
{"width":77,"height":24,"data":{"name":"km"},"transform":[{"filter":"datum.p==9"}],"encoding":{"x":{"field":"t","type":"quantitative","scale":{"domain":[0,10],"nice":false},"axis":{"values":[0,2.5,5,7.5,10],"title":"Time in years"}},"color":{"field":"g","type":"nominal","scale":{"domain":["U","O"],"range":["#E41A1C","#3C6FC4"]},"legend":{"title":"Group","labelExpr":"datum.label=='U'?'Underexp':'Overexp'"}}},"layer":[
{"mark":{"type":"area","interpolate":"step-after","opacity":0.3},"encoding":{"y":{"field":"lo","type":"quantitative","scale":{"domain":[0,1]},"axis":{"title":"Survival probability","values":[0,0.25,0.5,0.75,1],"format":".2f"}},"y2":{"field":"hi"}}},
{"mark":{"type":"line","interpolate":"step-after","strokeWidth":0.7},"encoding":{"y":{"field":"s","type":"quantitative"}}},
{"transform":[{"filter":"isValid(datum.pv)"}],"mark":{"type":"text","align":"left"},"encoding":{"x":{"datum":0.2},"y":{"datum":0.15},"text":{"field":"pv"},"color":{"value":"#000000"}}}]},
{"width":77,"height":9,"title":{"text":"Number at risk","fontSize":2.8,"offset":0.3},"data":{"name":"risk"},"transform":[{"filter":"datum.p==9"}],"mark":"text","encoding":{"x":{"field":"t","type":"quantitative","scale":{"domain":[0,10],"nice":false},"axis":{"values":[0,2.5,5,7.5,10],"grid":false,"title":"Time in years"}},"y":{"field":"g","type":"nominal","sort":["U","O"],"axis":{"title":"Strata","grid":false,"labelExpr":"datum.label=='U'?'Underexp':'Overexp'","labelColor":{"condition":{"test":"datum.value=='U'","value":"#E41A1C"},"value":"#3C6FC4"}}},"text":{"field":"n"}}},
{"width":77,"height":9,"title":{"text":"Number of censoring","fontSize":2.8,"offset":0.3},"data":{"name":"cens"},"transform":[{"filter":"datum.p==9"}],"mark":{"type":"rule","strokeWidth":0.6,"opacity":0.75},"encoding":{"x":{"field":"t","type":"quantitative","scale":{"domain":[0,10],"nice":false},"axis":{"values":[0,2.5,5,7.5,10],"title":"Time in years"}},"y":{"field":"n","type":"quantitative","scale":{"domain":[0,2]},"axis":{"title":"n.censor","values":[0,1,2],"grid":false}},"y2":{"datum":0},"color":{"field":"g","type":"nominal","legend":{"title":"Group","labelExpr":"datum.label=='U'?'Underexp':'Overexp'"}}}}
]},
{"title":"Overall survival group by PRKN2 in N0","spacing":0,"vconcat":[
{"width":77,"height":24,"data":{"name":"km"},"transform":[{"filter":"datum.p==10"}],"encoding":{"x":{"field":"t","type":"quantitative","scale":{"domain":[0,10],"nice":false},"axis":{"values":[0,2.5,5,7.5,10],"title":"Time in years"}},"color":{"field":"g","type":"nominal","scale":{"domain":["U","O"],"range":["#E41A1C","#3C6FC4"]},"legend":{"title":"Group","labelExpr":"datum.label=='U'?'Underexp':'Overexp'"}}},"layer":[
{"mark":{"type":"area","interpolate":"step-after","opacity":0.3},"encoding":{"y":{"field":"lo","type":"quantitative","scale":{"domain":[0,1]},"axis":{"title":"Survival probability","values":[0,0.25,0.5,0.75,1],"format":".2f"}},"y2":{"field":"hi"}}},
{"mark":{"type":"line","interpolate":"step-after","strokeWidth":0.7},"encoding":{"y":{"field":"s","type":"quantitative"}}},
{"transform":[{"filter":"isValid(datum.pv)"}],"mark":{"type":"text","align":"left"},"encoding":{"x":{"datum":0.2},"y":{"datum":0.15},"text":{"field":"pv"},"color":{"value":"#000000"}}}]},
{"width":77,"height":9,"title":{"text":"Number at risk","fontSize":2.8,"offset":0.3},"data":{"name":"risk"},"transform":[{"filter":"datum.p==10"}],"mark":"text","encoding":{"x":{"field":"t","type":"quantitative","scale":{"domain":[0,10],"nice":false},"axis":{"values":[0,2.5,5,7.5,10],"grid":false,"title":"Time in years"}},"y":{"field":"g","type":"nominal","sort":["U","O"],"axis":{"title":"Strata","grid":false,"labelExpr":"datum.label=='U'?'Underexp':'Overexp'","labelColor":{"condition":{"test":"datum.value=='U'","value":"#E41A1C"},"value":"#3C6FC4"}}},"text":{"field":"n"}}},
{"width":77,"height":9,"title":{"text":"Number of censoring","fontSize":2.8,"offset":0.3},"data":{"name":"cens"},"transform":[{"filter":"datum.p==10"}],"mark":{"type":"rule","strokeWidth":0.6,"opacity":0.75},"encoding":{"x":{"field":"t","type":"quantitative","scale":{"domain":[0,10],"nice":false},"axis":{"values":[0,2.5,5,7.5,10],"title":"Time in years"}},"y":{"field":"n","type":"quantitative","scale":{"domain":[0,2]},"axis":{"title":"n.censor","values":[0,1,2],"grid":false}},"y2":{"datum":0},"color":{"field":"g","type":"nominal","legend":{"title":"Group","labelExpr":"datum.label=='U'?'Underexp':'Overexp'"}}}}
]},
{"title":"Overall survival group by PRKN2 in FEMALE","spacing":0,"vconcat":[
{"width":77,"height":24,"data":{"name":"km"},"transform":[{"filter":"datum.p==11"}],"encoding":{"x":{"field":"t","type":"quantitative","scale":{"domain":[0,10],"nice":false},"axis":{"values":[0,2.5,5,7.5,10],"title":"Time in years"}},"color":{"field":"g","type":"nominal","scale":{"domain":["U","O"],"range":["#E41A1C","#3C6FC4"]},"legend":{"title":"Group","labelExpr":"datum.label=='U'?'Underexp':'Overexp'"}}},"layer":[
{"mark":{"type":"area","interpolate":"step-after","opacity":0.3},"encoding":{"y":{"field":"lo","type":"quantitative","scale":{"domain":[0,1]},"axis":{"title":"Survival probability","values":[0,0.25,0.5,0.75,1],"format":".2f"}},"y2":{"field":"hi"}}},
{"mark":{"type":"line","interpolate":"step-after","strokeWidth":0.7},"encoding":{"y":{"field":"s","type":"quantitative"}}},
{"transform":[{"filter":"isValid(datum.pv)"}],"mark":{"type":"text","align":"left"},"encoding":{"x":{"datum":0.2},"y":{"datum":0.15},"text":{"field":"pv"},"color":{"value":"#000000"}}}]},
{"width":77,"height":9,"title":{"text":"Number at risk","fontSize":2.8,"offset":0.3},"data":{"name":"risk"},"transform":[{"filter":"datum.p==11"}],"mark":"text","encoding":{"x":{"field":"t","type":"quantitative","scale":{"domain":[0,10],"nice":false},"axis":{"values":[0,2.5,5,7.5,10],"grid":false,"title":"Time in years"}},"y":{"field":"g","type":"nominal","sort":["U","O"],"axis":{"title":"Strata","grid":false,"labelExpr":"datum.label=='U'?'Underexp':'Overexp'","labelColor":{"condition":{"test":"datum.value=='U'","value":"#E41A1C"},"value":"#3C6FC4"}}},"text":{"field":"n"}}},
{"width":77,"height":9,"title":{"text":"Number of censoring","fontSize":2.8,"offset":0.3},"data":{"name":"cens"},"transform":[{"filter":"datum.p==11"}],"mark":{"type":"rule","strokeWidth":0.6,"opacity":0.75},"encoding":{"x":{"field":"t","type":"quantitative","scale":{"domain":[0,10],"nice":false},"axis":{"values":[0,2.5,5,7.5,10],"title":"Time in years"}},"y":{"field":"n","type":"quantitative","scale":{"domain":[0,2]},"axis":{"title":"n.censor","values":[0,1,2],"grid":false}},"y2":{"datum":0},"color":{"field":"g","type":"nominal","legend":{"title":"Group","labelExpr":"datum.label=='U'?'Underexp':'Overexp'"}}}}
]},
{"title":"Overall survival group by PRKN2 in MALE","spacing":0,"vconcat":[
{"width":77,"height":24,"data":{"name":"km"},"transform":[{"filter":"datum.p==12"}],"encoding":{"x":{"field":"t","type":"quantitative","scale":{"domain":[0,10],"nice":false},"axis":{"values":[0,2.5,5,7.5,10],"title":"Time in years"}},"color":{"field":"g","type":"nominal","scale":{"domain":["U","O"],"range":["#E41A1C","#3C6FC4"]},"legend":{"title":"Group","labelExpr":"datum.label=='U'?'Underexp':'Overexp'"}}},"layer":[
{"mark":{"type":"area","interpolate":"step-after","opacity":0.3},"encoding":{"y":{"field":"lo","type":"quantitative","scale":{"domain":[0,1]},"axis":{"title":"Survival probability","values":[0,0.25,0.5,0.75,1],"format":".2f"}},"y2":{"field":"hi"}}},
{"mark":{"type":"line","interpolate":"step-after","strokeWidth":0.7},"encoding":{"y":{"field":"s","type":"quantitative"}}},
{"transform":[{"filter":"isValid(datum.pv)"}],"mark":{"type":"text","align":"left"},"encoding":{"x":{"datum":0.2},"y":{"datum":0.15},"text":{"field":"pv"},"color":{"value":"#000000"}}}]},
{"width":77,"height":9,"title":{"text":"Number at risk","fontSize":2.8,"offset":0.3},"data":{"name":"risk"},"transform":[{"filter":"datum.p==12"}],"mark":"text","encoding":{"x":{"field":"t","type":"quantitative","scale":{"domain":[0,10],"nice":false},"axis":{"values":[0,2.5,5,7.5,10],"grid":false,"title":"Time in years"}},"y":{"field":"g","type":"nominal","sort":["U","O"],"axis":{"title":"Strata","grid":false,"labelExpr":"datum.label=='U'?'Underexp':'Overexp'","labelColor":{"condition":{"test":"datum.value=='U'","value":"#E41A1C"},"value":"#3C6FC4"}}},"text":{"field":"n"}}},
{"width":77,"height":9,"title":{"text":"Number of censoring","fontSize":2.8,"offset":0.3},"data":{"name":"cens"},"transform":[{"filter":"datum.p==12"}],"mark":{"type":"rule","strokeWidth":0.6,"opacity":0.75},"encoding":{"x":{"field":"t","type":"quantitative","scale":{"domain":[0,10],"nice":false},"axis":{"values":[0,2.5,5,7.5,10],"title":"Time in years"}},"y":{"field":"n","type":"quantitative","scale":{"domain":[0,2]},"axis":{"title":"n.censor","values":[0,1,2],"grid":false}},"y2":{"datum":0},"color":{"field":"g","type":"nominal","legend":{"title":"Group","labelExpr":"datum.label=='U'?'Underexp':'Overexp'"}}}}
]},
{"title":"Overall survival group by PRKN2 in older","spacing":0,"vconcat":[
{"width":77,"height":24,"data":{"name":"km"},"transform":[{"filter":"datum.p==13"}],"encoding":{"x":{"field":"t","type":"quantitative","scale":{"domain":[0,10],"nice":false},"axis":{"values":[0,2.5,5,7.5,10],"title":"Time in years"}},"color":{"field":"g","type":"nominal","scale":{"domain":["U","O"],"range":["#E41A1C","#3C6FC4"]},"legend":{"title":"Group","labelExpr":"datum.label=='U'?'Underexp':'Overexp'"}}},"layer":[
{"mark":{"type":"area","interpolate":"step-after","opacity":0.3},"encoding":{"y":{"field":"lo","type":"quantitative","scale":{"domain":[0,1]},"axis":{"title":"Survival probability","values":[0,0.25,0.5,0.75,1],"format":".2f"}},"y2":{"field":"hi"}}},
{"mark":{"type":"line","interpolate":"step-after","strokeWidth":0.7},"encoding":{"y":{"field":"s","type":"quantitative"}}},
{"transform":[{"filter":"isValid(datum.pv)"}],"mark":{"type":"text","align":"left"},"encoding":{"x":{"datum":0.2},"y":{"datum":0.15},"text":{"field":"pv"},"color":{"value":"#000000"}}}]},
{"width":77,"height":9,"title":{"text":"Number at risk","fontSize":2.8,"offset":0.3},"data":{"name":"risk"},"transform":[{"filter":"datum.p==13"}],"mark":"text","encoding":{"x":{"field":"t","type":"quantitative","scale":{"domain":[0,10],"nice":false},"axis":{"values":[0,2.5,5,7.5,10],"grid":false,"title":"Time in years"}},"y":{"field":"g","type":"nominal","sort":["U","O"],"axis":{"title":"Strata","grid":false,"labelExpr":"datum.label=='U'?'Underexp':'Overexp'","labelColor":{"condition":{"test":"datum.value=='U'","value":"#E41A1C"},"value":"#3C6FC4"}}},"text":{"field":"n"}}},
{"width":77,"height":9,"title":{"text":"Number of censoring","fontSize":2.8,"offset":0.3},"data":{"name":"cens"},"transform":[{"filter":"datum.p==13"}],"mark":{"type":"rule","strokeWidth":0.6,"opacity":0.75},"encoding":{"x":{"field":"t","type":"quantitative","scale":{"domain":[0,10],"nice":false},"axis":{"values":[0,2.5,5,7.5,10],"title":"Time in years"}},"y":{"field":"n","type":"quantitative","scale":{"domain":[0,2]},"axis":{"title":"n.censor","values":[0,1,2],"grid":false}},"y2":{"datum":0},"color":{"field":"g","type":"nominal","legend":{"title":"Group","labelExpr":"datum.label=='U'?'Underexp':'Overexp'"}}}}
]},
{"title":"Overall survival group by PRKN2 in younger","spacing":0,"vconcat":[
{"width":77,"height":24,"data":{"name":"km"},"transform":[{"filter":"datum.p==14"}],"encoding":{"x":{"field":"t","type":"quantitative","scale":{"domain":[0,10],"nice":false},"axis":{"values":[0,2.5,5,7.5,10],"title":"Time in years"}},"color":{"field":"g","type":"nominal","scale":{"domain":["U","O"],"range":["#E41A1C","#3C6FC4"]},"legend":{"title":"Group","labelExpr":"datum.label=='U'?'Underexp':'Overexp'"}}},"layer":[
{"mark":{"type":"area","interpolate":"step-after","opacity":0.3},"encoding":{"y":{"field":"lo","type":"quantitative","scale":{"domain":[0,1]},"axis":{"title":"Survival probability","values":[0,0.25,0.5,0.75,1],"format":".2f"}},"y2":{"field":"hi"}}},
{"mark":{"type":"line","interpolate":"step-after","strokeWidth":0.7},"encoding":{"y":{"field":"s","type":"quantitative"}}},
{"transform":[{"filter":"isValid(datum.pv)"}],"mark":{"type":"text","align":"left"},"encoding":{"x":{"datum":0.2},"y":{"datum":0.15},"text":{"field":"pv"},"color":{"value":"#000000"}}}]},
{"width":77,"height":9,"title":{"text":"Number at risk","fontSize":2.8,"offset":0.3},"data":{"name":"risk"},"transform":[{"filter":"datum.p==14"}],"mark":"text","encoding":{"x":{"field":"t","type":"quantitative","scale":{"domain":[0,10],"nice":false},"axis":{"values":[0,2.5,5,7.5,10],"grid":false,"title":"Time in years"}},"y":{"field":"g","type":"nominal","sort":["U","O"],"axis":{"title":"Strata","grid":false,"labelExpr":"datum.label=='U'?'Underexp':'Overexp'","labelColor":{"condition":{"test":"datum.value=='U'","value":"#E41A1C"},"value":"#3C6FC4"}}},"text":{"field":"n"}}},
{"width":77,"height":9,"title":{"text":"Number of censoring","fontSize":2.8,"offset":0.3},"data":{"name":"cens"},"transform":[{"filter":"datum.p==14"}],"mark":{"type":"rule","strokeWidth":0.6,"opacity":0.75},"encoding":{"x":{"field":"t","type":"quantitative","scale":{"domain":[0,10],"nice":false},"axis":{"values":[0,2.5,5,7.5,10],"title":"Time in years"}},"y":{"field":"n","type":"quantitative","scale":{"domain":[0,2]},"axis":{"title":"n.censor","values":[0,1,2],"grid":false}},"y2":{"datum":0},"color":{"field":"g","type":"nominal","legend":{"title":"Group","labelExpr":"datum.label=='U'?'Underexp':'Overexp'"}}}}
]}
],
"config":{
"font":"Liberation Sans",
"view":{"fill":"#EBEBEB","stroke":null},
"title":{"fontSize":3.3,"fontWeight":"normal","offset":1,"color":"#000000","anchor":"middle"},
"axis":{"labelFontSize":2.3,"titleFontSize":2.6,"titleFontWeight":"normal","labelColor":"#4D4D4D","titleColor":"#000000","gridColor":"#FFFFFF","gridWidth":0.5,"domain":false,"tickColor":"#333333","tickSize":1,"tickWidth":0.4,"labelPadding":0.3,"titlePadding":0.3,"labelFlush":false,"labelOverlap":false},
"legend":{"orient":"top","direction":"horizontal","titleOrient":"left","titleFontSize":2.6,"titleFontWeight":"normal","labelFontSize":2.3,"symbolSize":9,"symbolType":"square","symbolStrokeWidth":0.5,"padding":0,"offset":1,"columnPadding":2,"titlePadding":2,"labelOffset":1},
"text":{"fontSize":2.6}
}
}
